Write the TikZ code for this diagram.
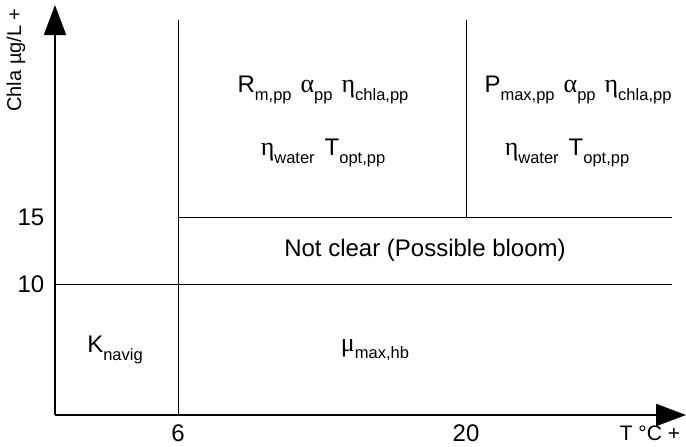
\documentclass[tikz,border=0pt]{standalone}
\usepackage{fontspec}
\setmainfont{Liberation Sans}
\newfontfamily\grk{Liberation Serif}
\usetikzlibrary{arrows.meta}
\newcommand\sbs[1]{\raisebox{-0.3em}{\fontsize{16.5}{16.5}\selectfont #1}}
\newcommand\gk[1]{{\grk\fontsize{26}{28}\selectfont #1}}
\tikzset{
  lbl/.style={font=\fontsize{24}{28}\selectfont, inner sep=0pt},
  smlbl/.style={font=\fontsize{20}{24}\selectfont, inner sep=0pt},
  thin line/.style={line width=1pt},
  axis/.style={line width=2pt, -{Triangle[length=30pt,width=22pt]}}
}
\begin{document}
\begin{tikzpicture}[x=1pt,y=-1pt]
\useasboundingbox (0,0) rectangle (686,447);
\coordinate (O) at (55,415);
\coordinate (ytop) at (55,5);
\coordinate (xend) at (686,415);
\coordinate (v6top) at (178,20);
\coordinate (v6bot) at (178,415);
\coordinate (v20top) at (466,20);
\coordinate (v20bot) at (466,217);
\coordinate (h15l) at (178,217);
\coordinate (h15r) at (672,217);
\coordinate (h10l) at (55,284);
\coordinate (h10r) at (672,284);
\draw[thin line] (v6top) -- (v6bot);
\draw[thin line] (v20top) -- (v20bot);
\draw[thin line] (h15l) -- (h15r);
\draw[thin line] (h10l) -- (h10r);
\draw[axis] (O) -- (ytop);
\draw[axis] (O) -- (xend);
\node[smlbl, rotate=90] (ylab) at (16,60) {Chla µg/L +};
\node[lbl] (t15) at (31,217) {15};
\node[lbl] (t10) at (31,284) {10};
\node[lbl] (t6) at (178,433) {6};
\node[lbl] (t20) at (466,433) {20};
\node[smlbl, font=\fontsize{21}{24}\selectfont, anchor=south] (tlab) at (650,441) {T °C +};
\node[lbl] (a1) at (323,90) {R\sbs{m,pp}\hspace{9pt}\gk{α}\sbs{pp}\hspace{9pt}\gk{η}\sbs{chla,pp}};
\node[lbl] (a2) at (323,153) {\gk{η}\sbs{water}\hspace{10pt}T\sbs{opt,pp}};
\node[lbl] (b1) at (578,90) {P\sbs{max,pp}\hspace{9pt}\gk{α}\sbs{pp}\hspace{9pt}\gk{η}\sbs{chla,pp}};
\node[lbl] (b2) at (567,153) {\gk{η}\sbs{water}\hspace{10pt}T\sbs{opt,pp}};
\node[lbl] (nc) at (425,250) {Not clear (Possible bloom)};
\node[lbl] (kn) at (115,350) {K\sbs{navig}};
\node[lbl] (mu) at (375,350) {\gk{μ}\sbs{max,hb}};
\end{tikzpicture}
\end{document}
